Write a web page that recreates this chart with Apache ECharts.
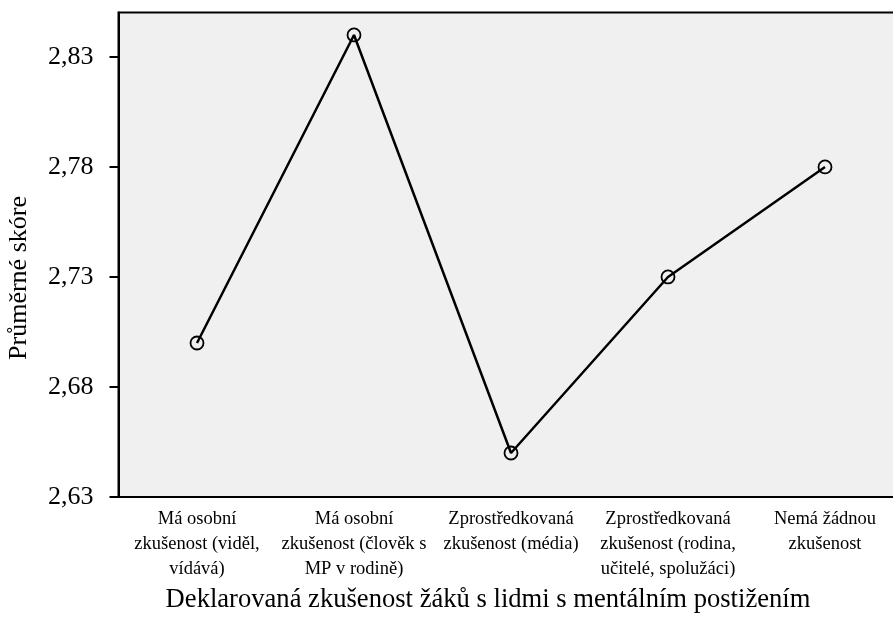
<!DOCTYPE html>
<html>
<head>
<meta charset="utf-8">
<script src="https://cdn.jsdelivr.net/npm/echarts@6/dist/echarts.min.js"></script>
<style>
html,body{margin:0;padding:0;background:#fff;overflow:hidden;width:893px;height:619px;}
#chart{width:920px;height:619px;}
</style>
</head>
<body>
<div id="chart"></div>
<script>
const categories = [
  "Má osobní\nzkušenost (viděl,\nvídává)",
  "Má osobní\nzkušenost (člověk s\nMP v rodině)",
  "Zprostředkovaná\nzkušenost (média)",
  "Zprostředkovaná\nzkušenost (rodina,\nučitelé, spolužáci)",
  "Nemá žádnou\nzkušenost"
];
const meanScores = [2.70, 2.84, 2.65, 2.73, 2.78];
const yTicks = [2.63, 2.68, 2.73, 2.78, 2.83];
const yAxisTitle = "Průměrné skóre";
const xAxisTitle = "Deklarovaná zkušenost žáků s lidmi s mentálním postižením";

const font = "'Liberation Serif', 'Times New Roman', serif";
const chart = echarts.init(document.getElementById('chart'));
chart.setOption({
  animation: false,
  backgroundColor: '#ffffff',
  grid: {
    left: 118.5, top: 12.5, bottom: 122, width: 785,
    outerBoundsMode: 'none',
    containLabel: false,
    show: true, backgroundColor: '#f0f0f0', borderColor: '#000', borderWidth: 2
  },
  xAxis: {
    type: 'category',
    data: categories,
    boundaryGap: true,
    axisLine: { lineStyle: { color: '#000', width: 2 } },
    axisTick: { alignWithLabel: true, length: 5, lineStyle: { color: '#000', width: 2 } },
    axisLabel: { color: '#000', fontFamily: font, fontSize: 18.5, lineHeight: 25, margin: 10, interval: 0 },
    splitLine: { show: false }
  },
  yAxis: {
    type: 'value',
    min: 2.63, max: 2.8502,
    axisLine: { show: true, lineStyle: { color: '#000', width: 2 } },
    axisTick: { show: true, length: 9, customValues: yTicks, lineStyle: { color: '#000', width: 2 } },
    axisLabel: {
      customValues: yTicks, color: '#000', fontFamily: font, fontSize: 26, margin: 25,
      formatter: v => v.toFixed(2).replace('.', ',')
    },
    splitLine: { show: false }
  },
  graphic: [
    {
      type: 'text', x: 19, y: 278, rotation: Math.PI / 2,
      style: { text: yAxisTitle, font: "26px " + font, fill: '#000', align: 'center', verticalAlign: 'middle' }
    },
    {
      type: 'text', x: 488, y: 600,
      style: { text: xAxisTitle, font: "26.6px " + font, fill: '#000', align: 'center', verticalAlign: 'middle' }
    }
  ],
  series: [{
    type: 'line',
    data: meanScores,
    symbol: 'circle',
    symbolSize: 13,
    showAllSymbol: true,
    lineStyle: { color: '#000', width: 2.5 },
    itemStyle: { color: 'rgba(0,0,0,0)', borderColor: '#000', borderWidth: 1.8 },
    z: 3
  }]
});
</script>
</body>
</html>
